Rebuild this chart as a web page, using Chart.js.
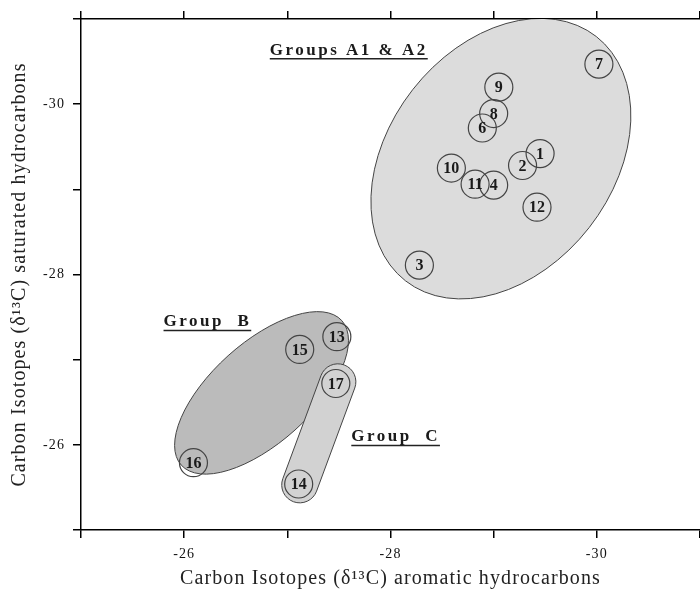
<!DOCTYPE html>
<html>
<head>
<meta charset="utf-8">
<script src="https://cdn.jsdelivr.net/npm/chart.js@4.4.1/dist/chart.umd.min.js"></script>
<style>
  html, body { margin: 0; padding: 0; background: #fff; overflow: hidden; }
  #wrap { width: 700px; height: 592px; position: relative; }
  canvas { display: block; }
</style>
</head>
<body>
<div id="wrap"><canvas id="isoChart"></canvas></div>
<script>
// Sample numbers and their carbon isotope values
const sampleIds    = ['1', '2', '3', '4', '6', '7', '8', '9', '10', '11', '12', '13', '14', '15', '16', '17'];
const aromaticC13  = [-29.45, -29.28, -28.28, -29.00, -28.89, -30.02, -29.00, -29.05, -28.59, -28.82, -29.42, -27.48, -27.11, -27.12, -26.09, -27.47];
const saturatedC13 = [-29.42, -29.28, -28.11, -29.05, -29.72, -30.47, -29.89, -30.20, -29.25, -29.06, -28.79, -27.27, -25.54, -27.12, -25.79, -26.72];
const labelledTicks = [-26, -28, -30];

// Group outlines, centres given in data units
const groupEllipses = [
    { cx: -29.07, cy: -29.36, rx: 155, ry: 112, rot: -52, fill: '#dcdcdc' },   // A1 & A2
    { cx: -26.75, cy: -26.61, rx: 108, ry: 50, rot: -42, fill: '#bbbbbb' }     // B
];
const groupC = { from: [-27.49, -26.74], to: [-27.12, -25.53], r: 18, fill: '#d2d2d2' };
const groupLabels = [
    { text: 'Groups A1 & A2', x: -26.83, y: -30.58 },
    { text: 'Group  B', x: -25.80, y: -27.39 },
    { text: 'Group  C', x: -27.62, y: -26.04 }
];

const serif = "'Liberation Serif', 'DejaVu Serif', serif";

const groupsPlugin = {
    id: 'groups',
    beforeDraw(chart) {
        // the scanned figure has loosely spaced axis text
        chart.ctx.letterSpacing = '1.1px';
    },
    beforeDatasetsDraw(chart) {
        const { ctx, chartArea, scales: { x, y } } = chart;
        ctx.letterSpacing = '0px';
        ctx.save();
        ctx.beginPath();
        ctx.rect(chartArea.left, chartArea.top, chartArea.width, chartArea.height);
        ctx.clip();
        ctx.strokeStyle = '#444';
        ctx.lineWidth = 1;
        groupEllipses.forEach(e => {
            ctx.beginPath();
            ctx.ellipse(x.getPixelForValue(e.cx), y.getPixelForValue(e.cy), e.rx, e.ry, e.rot * Math.PI / 180, 0, Math.PI * 2);
            ctx.fillStyle = e.fill;
            ctx.fill();
            ctx.stroke();
        });
        // group C is a capsule
        const x1 = x.getPixelForValue(groupC.from[0]), y1 = y.getPixelForValue(groupC.from[1]);
        const x2 = x.getPixelForValue(groupC.to[0]), y2 = y.getPixelForValue(groupC.to[1]);
        const ang = Math.atan2(y2 - y1, x2 - x1);
        ctx.beginPath();
        ctx.arc(x1, y1, groupC.r, ang + Math.PI / 2, ang + Math.PI * 1.5);
        ctx.arc(x2, y2, groupC.r, ang - Math.PI / 2, ang + Math.PI / 2);
        ctx.closePath();
        ctx.fillStyle = groupC.fill;
        ctx.fill();
        ctx.stroke();
        ctx.restore();
    },
    afterDatasetsDraw(chart) {
        const { ctx, scales: { x, y } } = chart;
        ctx.save();
        // numbers inside the circles
        const meta = chart.getDatasetMeta(0);
        ctx.font = 'bold 16px ' + serif;
        ctx.fillStyle = '#1a1a1a';
        ctx.textAlign = 'center';
        ctx.textBaseline = 'middle';
        meta.data.forEach((pt, i) => {
            ctx.fillText(sampleIds[i], pt.x, pt.y + 1);
        });
        // group names, underlined
        ctx.font = 'bold 17px ' + serif;
        ctx.textAlign = 'left';
        ctx.textBaseline = 'alphabetic';
        ctx.letterSpacing = '2.5px';
        ctx.strokeStyle = '#222';
        ctx.lineWidth = 1.5;
        groupLabels.forEach(l => {
            const px = x.getPixelForValue(l.x), py = y.getPixelForValue(l.y);
            ctx.fillText(l.text, px, py);
            const w = ctx.measureText(l.text).width;
            ctx.beginPath();
            ctx.moveTo(px, py + 4);
            ctx.lineTo(px + w, py + 4);
            ctx.stroke();
        });
        ctx.restore();
    }
};

const axisGrid = { drawOnChartArea: false, drawTicks: true, tickLength: 8, color: '#000', lineWidth: 1.5 };
const axisBorder = { color: '#000', width: 1.5 };
const tickFont = { family: serif, size: 14 };
const noSidePadding = h => s => { s.height = h; s.paddingLeft = 0; s.paddingRight = 0; };

new Chart(document.getElementById('isoChart'), {
    type: 'scatter',
    data: {
        datasets: [{
            data: aromaticC13.map((v, i) => ({ x: v, y: saturatedC13[i] })),
            pointRadius: 14,
            pointHoverRadius: 14,
            pointBackgroundColor: 'rgba(0,0,0,0)',
            pointBorderColor: '#444',
            pointBorderWidth: 1.2
        }]
    },
    options: {
        responsive: true,
        maintainAspectRatio: false,
        animation: false,
        layout: { padding: 0, autoPadding: false },
        plugins: { legend: { display: false }, tooltip: { enabled: false } },
        scales: {
            x: {
                type: 'linear', position: 'bottom', min: -31, max: -25, reverse: true,
                afterFit: noSidePadding(62),
                ticks: {
                    stepSize: 1, autoSkip: false, maxRotation: 0, padding: 8,
                    color: '#111', font: tickFont,
                    callback: v => labelledTicks.includes(v) ? String(v) : ''
                },
                grid: axisGrid,
                border: axisBorder,
                title: {
                    display: true,
                    text: 'Carbon Isotopes (\u03B4\u00B9\u00B3C) aromatic hydrocarbons',
                    color: '#222', font: { family: serif, size: 20 },
                    padding: { top: 0, bottom: 1 }
                }
            },
            xTop: {
                type: 'linear', position: 'top', min: -31, max: -25, reverse: true,
                afterFit: noSidePadding(19),
                ticks: { stepSize: 1, autoSkip: false, maxRotation: 0, padding: 0, callback: () => '' },
                grid: axisGrid,
                border: axisBorder
            },
            y: {
                type: 'linear', position: 'left', min: -31, max: -25, reverse: true,
                afterFit: s => { s.width = 81; s.paddingTop = 0; s.paddingBottom = 0; },
                ticks: {
                    stepSize: 1, autoSkip: false, padding: 8,
                    color: '#111', font: tickFont,
                    callback: v => labelledTicks.includes(v) ? String(v) : ''
                },
                grid: axisGrid,
                border: axisBorder,
                title: {
                    display: true,
                    text: 'Carbon Isotopes (\u03B4\u00B9\u00B3C) saturated hydrocarbons',
                    color: '#222', font: { family: serif, size: 20 },
                    padding: { top: 8, bottom: 0 }
                }
            }
        }
    },
    plugins: [groupsPlugin]
});
</script>
</body>
</html>
